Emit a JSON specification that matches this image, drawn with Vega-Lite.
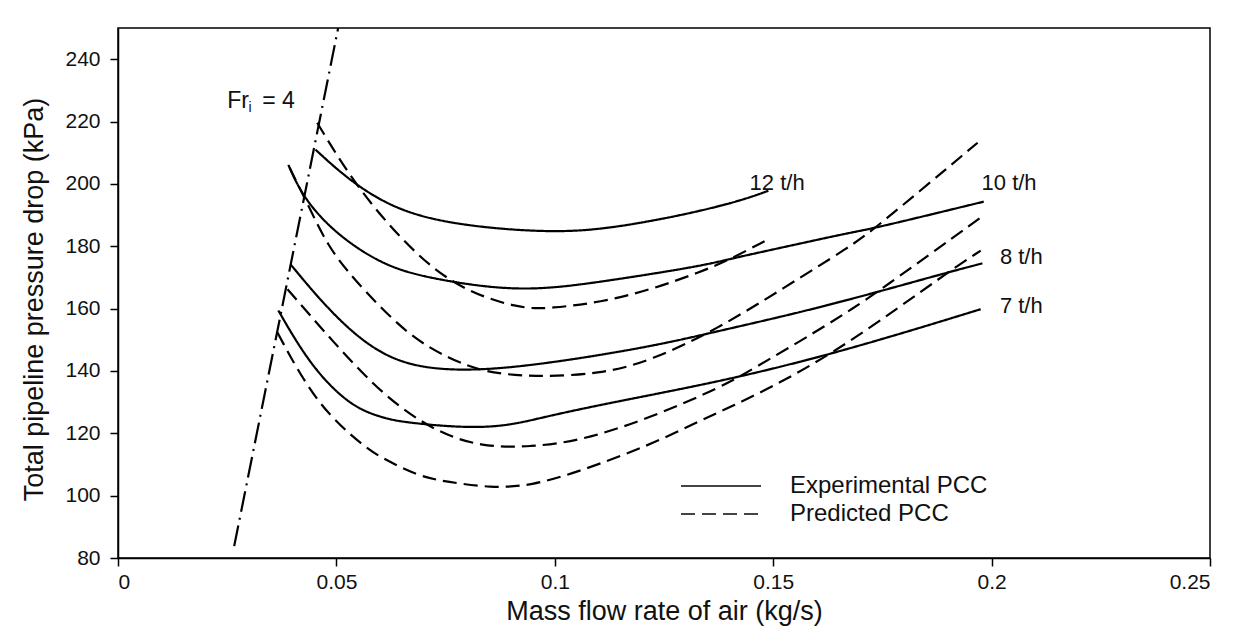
{
  "$schema": "https://vega.github.io/schema/vega-lite/v6.json",
  "width": 1092,
  "height": 530,
  "autosize": {"type": "none"},
  "padding": {"left": 118, "top": 28, "right": 29, "bottom": 70},
  "background": "white",
  "datasets": {
    "curves": [
      {"rate": "12 t/h", "type": "Experimental PCC", "air": 0.0452, "dp": 211.0},
      {"rate": "12 t/h", "type": "Experimental PCC", "air": 0.0532, "dp": 200.7},
      {"rate": "12 t/h", "type": "Experimental PCC", "air": 0.0646, "dp": 190.8},
      {"rate": "12 t/h", "type": "Experimental PCC", "air": 0.0800, "dp": 186.3},
      {"rate": "12 t/h", "type": "Experimental PCC", "air": 0.0990, "dp": 184.4},
      {"rate": "12 t/h", "type": "Experimental PCC", "air": 0.1105, "dp": 185.4},
      {"rate": "12 t/h", "type": "Experimental PCC", "air": 0.1219, "dp": 188.0},
      {"rate": "12 t/h", "type": "Experimental PCC", "air": 0.1334, "dp": 191.3},
      {"rate": "12 t/h", "type": "Experimental PCC", "air": 0.1432, "dp": 194.9},
      {"rate": "12 t/h", "type": "Experimental PCC", "air": 0.1489, "dp": 197.8},

      {"rate": "10 t/h", "type": "Experimental PCC", "air": 0.0390, "dp": 206.1},
      {"rate": "10 t/h", "type": "Experimental PCC", "air": 0.0422, "dp": 196.0},
      {"rate": "10 t/h", "type": "Experimental PCC", "air": 0.0493, "dp": 184.5},
      {"rate": "10 t/h", "type": "Experimental PCC", "air": 0.0608, "dp": 173.6},
      {"rate": "10 t/h", "type": "Experimental PCC", "air": 0.0722, "dp": 169.4},
      {"rate": "10 t/h", "type": "Experimental PCC", "air": 0.0921, "dp": 165.2},
      {"rate": "10 t/h", "type": "Experimental PCC", "air": 0.1105, "dp": 168.5},
      {"rate": "10 t/h", "type": "Experimental PCC", "air": 0.1334, "dp": 173.6},
      {"rate": "10 t/h", "type": "Experimental PCC", "air": 0.1396, "dp": 175.8},
      {"rate": "10 t/h", "type": "Experimental PCC", "air": 0.1563, "dp": 180.9},
      {"rate": "10 t/h", "type": "Experimental PCC", "air": 0.1677, "dp": 184.4},
      {"rate": "10 t/h", "type": "Experimental PCC", "air": 0.1730, "dp": 185.7},
      {"rate": "10 t/h", "type": "Experimental PCC", "air": 0.1982, "dp": 194.3},

      {"rate": "8 t/h", "type": "Experimental PCC", "air": 0.0395, "dp": 174.2},
      {"rate": "8 t/h", "type": "Experimental PCC", "air": 0.0493, "dp": 157.6},
      {"rate": "8 t/h", "type": "Experimental PCC", "air": 0.0617, "dp": 142.8},
      {"rate": "8 t/h", "type": "Experimental PCC", "air": 0.0768, "dp": 139.6},
      {"rate": "8 t/h", "type": "Experimental PCC", "air": 0.0951, "dp": 141.6},
      {"rate": "8 t/h", "type": "Experimental PCC", "air": 0.1219, "dp": 147.7},
      {"rate": "8 t/h", "type": "Experimental PCC", "air": 0.1372, "dp": 152.7},
      {"rate": "8 t/h", "type": "Experimental PCC", "air": 0.1563, "dp": 158.8},
      {"rate": "8 t/h", "type": "Experimental PCC", "air": 0.1739, "dp": 165.3},
      {"rate": "8 t/h", "type": "Experimental PCC", "air": 0.1899, "dp": 171.6},
      {"rate": "8 t/h", "type": "Experimental PCC", "air": 0.1979, "dp": 174.5},

      {"rate": "7 t/h", "type": "Experimental PCC", "air": 0.0367, "dp": 159.4},
      {"rate": "7 t/h", "type": "Experimental PCC", "air": 0.0441, "dp": 141.5},
      {"rate": "7 t/h", "type": "Experimental PCC", "air": 0.0532, "dp": 128.7},
      {"rate": "7 t/h", "type": "Experimental PCC", "air": 0.0601, "dp": 125.2},
      {"rate": "7 t/h", "type": "Experimental PCC", "air": 0.0647, "dp": 123.6},
      {"rate": "7 t/h", "type": "Experimental PCC", "air": 0.0791, "dp": 121.7},
      {"rate": "7 t/h", "type": "Experimental PCC", "air": 0.0892, "dp": 122.3},
      {"rate": "7 t/h", "type": "Experimental PCC", "air": 0.0983, "dp": 125.5},
      {"rate": "7 t/h", "type": "Experimental PCC", "air": 0.1134, "dp": 130.0},
      {"rate": "7 t/h", "type": "Experimental PCC", "air": 0.1409, "dp": 137.4},
      {"rate": "7 t/h", "type": "Experimental PCC", "air": 0.1677, "dp": 147.0},
      {"rate": "7 t/h", "type": "Experimental PCC", "air": 0.1975, "dp": 159.8},

      {"rate": "12 t/h", "type": "Predicted PCC", "air": 0.0456, "dp": 219.6},
      {"rate": "12 t/h", "type": "Predicted PCC", "air": 0.0539, "dp": 200.4},
      {"rate": "12 t/h", "type": "Predicted PCC", "air": 0.0647, "dp": 182.2},
      {"rate": "12 t/h", "type": "Predicted PCC", "air": 0.0768, "dp": 166.8},
      {"rate": "12 t/h", "type": "Predicted PCC", "air": 0.0921, "dp": 159.8},
      {"rate": "12 t/h", "type": "Predicted PCC", "air": 0.0990, "dp": 160.1},
      {"rate": "12 t/h", "type": "Predicted PCC", "air": 0.1105, "dp": 162.0},
      {"rate": "12 t/h", "type": "Predicted PCC", "air": 0.1219, "dp": 166.0},
      {"rate": "12 t/h", "type": "Predicted PCC", "air": 0.1334, "dp": 171.8},
      {"rate": "12 t/h", "type": "Predicted PCC", "air": 0.1396, "dp": 175.4},
      {"rate": "12 t/h", "type": "Predicted PCC", "air": 0.1488, "dp": 182.2},

      {"rate": "10 t/h", "type": "Predicted PCC", "air": 0.0393, "dp": 205.2},
      {"rate": "10 t/h", "type": "Predicted PCC", "air": 0.0440, "dp": 191.8},
      {"rate": "10 t/h", "type": "Predicted PCC", "air": 0.0479, "dp": 180.5},
      {"rate": "10 t/h", "type": "Predicted PCC", "air": 0.0532, "dp": 170.5},
      {"rate": "10 t/h", "type": "Predicted PCC", "air": 0.0663, "dp": 151.2},
      {"rate": "10 t/h", "type": "Predicted PCC", "air": 0.0761, "dp": 143.8},
      {"rate": "10 t/h", "type": "Predicted PCC", "air": 0.0837, "dp": 139.6},
      {"rate": "10 t/h", "type": "Predicted PCC", "air": 0.0951, "dp": 138.0},
      {"rate": "10 t/h", "type": "Predicted PCC", "air": 0.1105, "dp": 139.0},
      {"rate": "10 t/h", "type": "Predicted PCC", "air": 0.1219, "dp": 143.2},
      {"rate": "10 t/h", "type": "Predicted PCC", "air": 0.1372, "dp": 153.4},
      {"rate": "10 t/h", "type": "Predicted PCC", "air": 0.1524, "dp": 166.6},
      {"rate": "10 t/h", "type": "Predicted PCC", "air": 0.1677, "dp": 180.0},
      {"rate": "10 t/h", "type": "Predicted PCC", "air": 0.1730, "dp": 185.3},
      {"rate": "10 t/h", "type": "Predicted PCC", "air": 0.1968, "dp": 213.2},

      {"rate": "8 t/h", "type": "Predicted PCC", "air": 0.0388, "dp": 166.2},
      {"rate": "8 t/h", "type": "Predicted PCC", "air": 0.0493, "dp": 149.2},
      {"rate": "8 t/h", "type": "Predicted PCC", "air": 0.0608, "dp": 132.0},
      {"rate": "8 t/h", "type": "Predicted PCC", "air": 0.0722, "dp": 120.8},
      {"rate": "8 t/h", "type": "Predicted PCC", "air": 0.0830, "dp": 115.6},
      {"rate": "8 t/h", "type": "Predicted PCC", "air": 0.0945, "dp": 115.6},
      {"rate": "8 t/h", "type": "Predicted PCC", "air": 0.1059, "dp": 117.6},
      {"rate": "8 t/h", "type": "Predicted PCC", "air": 0.1213, "dp": 124.6},
      {"rate": "8 t/h", "type": "Predicted PCC", "air": 0.1387, "dp": 135.2},
      {"rate": "8 t/h", "type": "Predicted PCC", "air": 0.1448, "dp": 140.2},
      {"rate": "8 t/h", "type": "Predicted PCC", "air": 0.1608, "dp": 153.4},
      {"rate": "8 t/h", "type": "Predicted PCC", "air": 0.1677, "dp": 159.6},
      {"rate": "8 t/h", "type": "Predicted PCC", "air": 0.1739, "dp": 165.3},
      {"rate": "8 t/h", "type": "Predicted PCC", "air": 0.1982, "dp": 189.9},

      {"rate": "7 t/h", "type": "Predicted PCC", "air": 0.0365, "dp": 152.3},
      {"rate": "7 t/h", "type": "Predicted PCC", "air": 0.0456, "dp": 128.7},
      {"rate": "7 t/h", "type": "Predicted PCC", "air": 0.0570, "dp": 115.0},
      {"rate": "7 t/h", "type": "Predicted PCC", "air": 0.0601, "dp": 112.4},
      {"rate": "7 t/h", "type": "Predicted PCC", "air": 0.0685, "dp": 106.3},
      {"rate": "7 t/h", "type": "Predicted PCC", "air": 0.0754, "dp": 104.4},
      {"rate": "7 t/h", "type": "Predicted PCC", "air": 0.0853, "dp": 102.5},
      {"rate": "7 t/h", "type": "Predicted PCC", "air": 0.0945, "dp": 103.1},
      {"rate": "7 t/h", "type": "Predicted PCC", "air": 0.1059, "dp": 107.9},
      {"rate": "7 t/h", "type": "Predicted PCC", "air": 0.1213, "dp": 115.9},
      {"rate": "7 t/h", "type": "Predicted PCC", "air": 0.1341, "dp": 124.6},
      {"rate": "7 t/h", "type": "Predicted PCC", "air": 0.1402, "dp": 128.4},
      {"rate": "7 t/h", "type": "Predicted PCC", "air": 0.1524, "dp": 136.7},
      {"rate": "7 t/h", "type": "Predicted PCC", "air": 0.1677, "dp": 149.2},
      {"rate": "7 t/h", "type": "Predicted PCC", "air": 0.1899, "dp": 171.6},
      {"rate": "7 t/h", "type": "Predicted PCC", "air": 0.1975, "dp": 178.6}
    ],
    "froude": [
      {"air": 0.0266, "dp": 83.8},
      {"air": 0.0504, "dp": 250.0}
    ],
    "rateLabels": [
      {"air": 0.1446, "dp": 200.4, "text": "12 t/h"},
      {"air": 0.1977, "dp": 200.2, "text": "10 t/h"},
      {"air": 0.2019, "dp": 176.6, "text": "8 t/h"},
      {"air": 0.2019, "dp": 160.7, "text": "7 t/h"}
    ],
    "froudeLabel": [
      {"air": 0.0250, "dp": 226.7, "text": "Fr"},
      {"air": 0.0330, "dp": 226.7, "text": "= 4"}
    ],
    "froudeSub": [
      {"air": 0.0299, "dp": 224.4, "text": "i"}
    ]
  },
  "layer": [
    {
      "data": {"name": "froude"},
      "mark": {"type": "line", "color": "#000", "strokeWidth": 2.2, "strokeDash": [21, 6, 2, 6], "clip": true},
      "encoding": {
        "x": {"field": "air", "type": "quantitative"},
        "y": {"field": "dp", "type": "quantitative"}
      }
    },
    {
      "data": {"name": "curves"},
      "mark": {"type": "line", "color": "#000", "strokeWidth": 2.2, "interpolate": "basis", "clip": true},
      "encoding": {
        "x": {
          "field": "air",
          "type": "quantitative",
          "scale": {"domain": [0, 0.25], "nice": false, "zero": false},
          "axis": {
            "title": "Mass flow rate of air (kg/s)",
            "values": [0, 0.05, 0.1, 0.15, 0.2, 0.25],
            "format": "~g",
            "labelPadding": 5,
            "titleY": 40
          }
        },
        "y": {
          "field": "dp",
          "type": "quantitative",
          "scale": {"domain": [80, 250], "nice": false, "zero": false},
          "axis": {
            "title": "Total pipeline pressure drop (kPa)",
            "values": [80, 100, 120, 140, 160, 180, 200, 220, 240],
            "format": "d",
            "labelPadding": 10,
            "titleX": -70,
            "titleY": 271
          }
        },
        "detail": {"field": "rate"},
        "strokeDash": {
          "field": "type",
          "type": "nominal",
          "scale": {
            "domain": ["Experimental PCC", "Predicted PCC"],
            "range": [[1, 0], [14, 7]]
          },
          "legend": {
            "orient": "none",
            "legendX": 591,
            "legendY": 446,
            "title": null,
            "symbolType": "M-4,0H4",
            "symbolSize": 400,
            "symbolStrokeWidth": 2,
            "symbolStrokeColor": "#444",
            "labelFontSize": 24,
            "labelLimit": 400,
            "labelOffset": 57,
            "rowPadding": 4,
            "encode": {
              "symbols": {
                "update": {
                  "strokeDash": {"signal": "datum.value === 'Predicted PCC' ? [18, 14] : [1, 0]"}
                }
              }
            }
          }
        }
      }
    },
    {
      "data": {"name": "rateLabels"},
      "mark": {"type": "text", "align": "left", "baseline": "middle", "fontSize": 22, "color": "#111"},
      "encoding": {
        "x": {"field": "air", "type": "quantitative"},
        "y": {"field": "dp", "type": "quantitative"},
        "text": {"field": "text"}
      }
    },
    {
      "data": {"name": "froudeLabel"},
      "mark": {"type": "text", "align": "left", "baseline": "middle", "fontSize": 23, "color": "#111"},
      "encoding": {
        "x": {"field": "air", "type": "quantitative"},
        "y": {"field": "dp", "type": "quantitative"},
        "text": {"field": "text"}
      }
    },
    {
      "data": {"name": "froudeSub"},
      "mark": {"type": "text", "align": "left", "baseline": "middle", "fontSize": 14, "color": "#111"},
      "encoding": {
        "x": {"field": "air", "type": "quantitative"},
        "y": {"field": "dp", "type": "quantitative"},
        "text": {"field": "text"}
      }
    }
  ],
  "config": {
    "font": "Liberation Sans",
    "view": {"stroke": "#000", "strokeWidth": 1.5},
    "axis": {
      "grid": false,
      "domainColor": "#000",
      "domainWidth": 1.5,
      "tickColor": "#000",
      "tickWidth": 1.5,
      "tickSize": 8,
      "labelFont": "Liberation Sans",
      "labelFontSize": 21,
      "labelColor": "#111",
      "titleFont": "Liberation Sans",
      "titleFontSize": 27,
      "titleFontWeight": "normal",
      "titleColor": "#111"
    },
    "legend": {
      "labelFont": "Liberation Sans",
      "labelColor": "#111"
    },
    "text": {"font": "Liberation Sans"}
  }
}
